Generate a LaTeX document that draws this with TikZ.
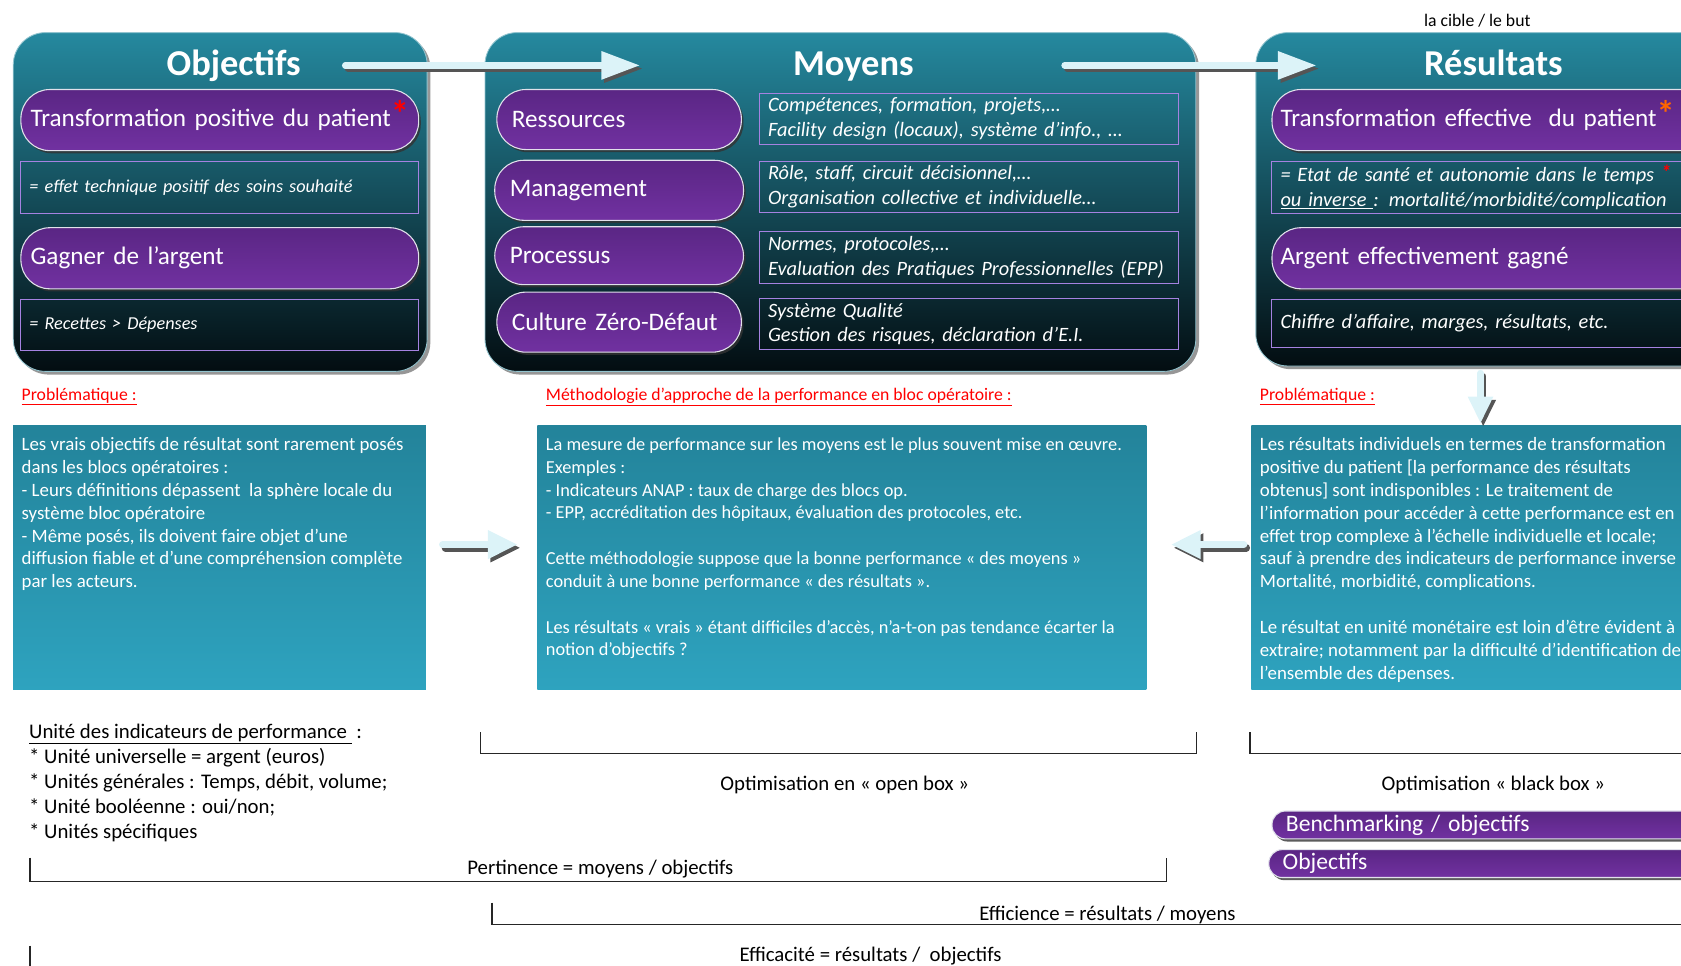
\documentclass[tikz,border=0pt]{standalone}
\usepackage{fontspec}
\setmainfont{Carlito}
\usepackage{xcolor}
\usetikzlibrary{arrows.meta, positioning, shadows}
\definecolor{panelTop}{RGB}{37,137,159}
\definecolor{panelMid}{RGB}{27,96,112}
\definecolor{panelBot}{RGB}{3,13,17}
\definecolor{panelShadow}{RGB}{150,150,150}
\definecolor{pillTop}{RGB}{90,38,132}
\definecolor{pillBot}{RGB}{113,49,161}
\definecolor{pillEdge}{RGB}{225,225,235}
\definecolor{boxEdge}{RGB}{165,130,225}
\definecolor{tbTop}{RGB}{35,131,154}
\definecolor{tbBot}{RGB}{46,163,191}
\definecolor{arrowCyan}{RGB}{220,243,248}
\definecolor{arrowShadow}{RGB}{85,85,85}
\definecolor{starOrange}{RGB}{255,102,0}
\tikzset{
    panel/.style={rectangle, rounded corners=30pt, top color=panelTop, middle color=panelMid, bottom color=panelBot, draw=panelTop!50!white, line width=0.8pt, anchor=north west, inner sep=0pt, drop shadow={shadow xshift=3pt, shadow yshift=-3pt, fill=panelShadow, opacity=1}},
    paneltitle/.style={text=white, inner sep=0pt, anchor=base, font=\fontsize{34}{40}\selectfont\bfseries},
    pill/.style={rectangle, rounded corners=27pt, draw=pillEdge, line width=1pt, top color=pillTop, bottom color=pillBot, text=white, align=left, anchor=north west, inner xsep=9pt, inner ysep=0pt, font=\fontsize{23.5}{27}\selectfont, drop shadow={shadow xshift=2pt, shadow yshift=-2.5pt, fill=black!80, opacity=0.8}},
    benchpill/.style={pill, rounded corners=12.5pt, font=\fontsize{22}{24}\selectfont, inner xsep=13pt},
    infobox/.style={rectangle, draw=boxEdge, line width=0.9pt, text=white, align=left, anchor=north west, inner xsep=8pt, inner ysep=0pt, font=\fontsize{19}{23}\selectfont\itshape},
    textbox/.style={rectangle, top color=tbTop, bottom color=tbBot, anchor=north west, inner sep=0pt},
    boxtext/.style={text=white, align=left, anchor=north west, inner sep=0pt, font=\fontsize{17.6}{21.3}\selectfont},
    heading/.style={text=red, anchor=west, inner sep=0pt, font=\fontsize{16.5}{19}\selectfont},
    plain/.style={inner sep=0pt, font=\fontsize{19.4}{23.3}\selectfont},
    bracket/.style={line width=1.1pt, draw=black!85},
    bigarrow/.style={draw=arrowCyan, line width=6pt, line cap=round, -{Triangle[length=36pt,width=25pt]}},
    smallarrow/.style={draw=arrowCyan, line width=7pt, line cap=round, -{Triangle[length=28pt,width=25pt]}},
    shadowed/.style={draw=arrowShadow, transform canvas={shift={(2.5pt,-3pt)}}},
}
\newcommand{\bigstar}[1]{\rlap{\smash{\color{#1}\fontsize{34}{34}\selectfont\bfseries\raisebox{0pt}{*}}}}

\begin{document}
\begin{tikzpicture}[x=1pt, y=-1pt]
    \useasboundingbox (0,0) rectangle (1568,901);
    \clip (0,0) rectangle (1568,901);

    % === TOP PANELS ===
    \node[panel, minimum width=386pt, minimum height=316pt] (objpanel) at (12,30) {};
    \node[panel, minimum width=663pt, minimum height=316pt] (moypanel) at (452,30) {};
    \node[panel, minimum width=520pt, minimum height=311pt] (respanel) at (1171,30) {};

    \node[paneltitle] (objtitle) at (218,70) {Objectifs};
    \node[paneltitle] (moytitle) at (796,70) {Moyens};
    \node[paneltitle] (restitle) at (1393,70) {Résultats};
    \node[plain, font=\fontsize{16.5}{19}\selectfont] (cible) at (1378,19) {la cible / le but};

    \coordinate (objout) at (322,61);
    \coordinate (moyin) at (597,61);
    \coordinate (moyout) at (993,61);
    \coordinate (resin) at (1228,61);
    \draw[bigarrow, shadowed] (objout) -- (moyin);
    \draw[bigarrow] (objout) -- (moyin);
    \draw[bigarrow, shadowed] (moyout) -- (resin);
    \draw[bigarrow] (moyout) -- (resin);

    % === OBJECTIFS ===
    \node[pill, text width=353pt, minimum height=57pt] (objpatient) at (19,83) {Transformation positive du patient\bigstar{red}};
    \node[infobox, text width=355pt, minimum height=49pt, font=\fontsize{17}{20}\selectfont\itshape, below=9pt of objpatient.south west, anchor=north west] (objeffet) {= effet technique positif des soins souhaité};
    \node[pill, text width=353pt, minimum height=57pt, below=12pt of objeffet.south west, anchor=north west] (objargent) {Gagner de l’argent};
    \node[infobox, text width=355pt, minimum height=48pt, font=\fontsize{17}{20}\selectfont\itshape, below=9pt of objargent.south west, anchor=north west] (objrecettes) {= Recettes > Dépenses};

    % === MOYENS ===
    \node[pill, inner xsep=14pt, text width=200pt, minimum height=56pt] (ressources) at (463,83) {Ressources};
    \node[pill, inner xsep=14pt, text width=204pt, minimum height=56pt] (management) at (461,149) {Management};
    \node[pill, inner xsep=14pt, text width=204pt, minimum height=54pt] (processus) at (461,211) {Processus};
    \node[pill, inner xsep=14pt, text width=200pt, minimum height=56pt] (culture) at (463,272) {Culture Zéro-Défaut};

    \node[infobox, text width=375pt, minimum height=47pt] (ressdet) at (708,87) {Compétences, formation, projets,…\\Facility design (locaux), système d’info., …};
    \node[infobox, text width=375pt, minimum height=48pt, below=15pt of ressdet.south west, anchor=north west] (mgtdet) {Rôle, staff, circuit décisionnel,…\\Organisation collective et individuelle…};
    \node[infobox, text width=375pt, minimum height=48pt, below=17pt of mgtdet.south west, anchor=north west] (procdet) {Normes, protocoles,…\\Evaluation des Pratiques Professionnelles (EPP)};
    \node[infobox, text width=375pt, minimum height=48pt, below=13pt of procdet.south west, anchor=north west] (culdet) {Système Qualité\\Gestion des risques, déclaration d’E.I.};

    % === RESULTATS ===
    \node[pill, inner xsep=8pt, text width=404pt, minimum height=57pt] (respatient) at (1186,83) {Transformation effective~ du patient\bigstar{starOrange}};
    \node[infobox, text width=404pt, minimum height=49pt, below=9pt of respatient.south west, anchor=north west] (resetat) {= Etat de santé et autonomie dans le temps {\color{red}\bfseries\raisebox{2pt}{*}}\\\underline{ou inverse\ }: mortalité/morbidité/complication};
    \node[pill, inner xsep=8pt, text width=404pt, minimum height=57pt, below=12pt of resetat.south west, anchor=north west] (resargent) {Argent effectivement gagné};
    \node[infobox, text width=404pt, minimum height=45pt, below=9pt of resargent.south west, anchor=north west] (reschiffre) {Chiffre d’affaire, marges, résultats, etc.};

    % === PROBLEMATIQUES ===
    \node[heading] (probobj) at (20,370) {\underline{Problématique :}};
    \node[heading] (methmoy) at (509,370) {\underline{Méthodologie d’approche de la performance en bloc opératoire :}};
    \node[heading] (probres) at (1175,370) {\underline{Problématique :}};

    \node[textbox, minimum width=385pt, minimum height=246pt] (boxobj) at (12,397) {};
    \node[textbox, minimum width=568pt, minimum height=246pt] (boxmoy) at (501,397) {};
    \node[textbox, minimum width=450pt, minimum height=246pt] (boxres) at (1167,397) {};

    \node[boxtext] (txtobj) at ([shift={(8pt,-11pt)}]boxobj.north west) {Les vrais objectifs de résultat sont rarement posés\\dans les blocs opératoires :\\- Leurs définitions dépassent~ la sphère locale du\\système bloc opératoire\\- Même posés, ils doivent faire objet d’une\\diffusion fiable et d’une compréhension complète\\par les acteurs.};
    \node[boxtext, font=\fontsize{17.1}{21.3}\selectfont] (txtmoy) at ([shift={(8pt,-11pt)}]boxmoy.north west) {La mesure de performance sur les moyens est le plus souvent mise en œuvre.\\Exemples :\\- Indicateurs ANAP : taux de charge des blocs op.\\- EPP, accréditation des hôpitaux, évaluation des protocoles, etc.\\[21.3pt]Cette méthodologie suppose que la bonne performance « des moyens »\\conduit à une bonne performance « des résultats ».\\[21.3pt]Les résultats « vrais » étant difficiles d’accès, n’a-t-on pas tendance écarter la\\notion d’objectifs ?};
    \node[boxtext] (txtres) at ([shift={(8pt,-11pt)}]boxres.north west) {Les résultats individuels en termes de transformation\\positive du patient [la performance des résultats\\obtenus] sont indisponibles : Le traitement de\\l’information pour accéder à cette performance est en\\effet trop complexe à l’échelle individuelle et locale;\\sauf à prendre des indicateurs de performance inverse\\Mortalité, morbidité, complications.\\[21.3pt]Le résultat en unité monétaire est loin d’être évident à\\extraire; notamment par la difficulté d’identification de\\l’ensemble des dépenses.};

    \coordinate (resdown) at (1381,348);
    \coordinate (boxresin) at (1381,395);
    \coordinate (objright) at (413,508);
    \coordinate (moyleft) at (483,508);
    \coordinate (resleft) at (1160,508);
    \coordinate (moyright) at (1092,508);
    \draw[smallarrow, line width=6pt, -{Triangle[length=25pt,width=22pt]}, shadowed] (resdown) -- (boxresin);
    \draw[smallarrow, line width=6pt, -{Triangle[length=25pt,width=22pt]}] (resdown) -- (boxresin);
    \draw[smallarrow, shadowed] (objright) -- (moyleft);
    \draw[smallarrow] (objright) -- (moyleft);
    \draw[smallarrow, shadowed] (resleft) -- (moyright);
    \draw[smallarrow] (resleft) -- (moyright);

    % === UNITES ET RATIOS ===
    \node[plain, align=left, anchor=north west] (unites) at (27,675) {\underline{Unité des indicateurs de performance\ } :\\* Unité universelle = argent (euros)\\* Unités générales : Temps, débit, volume;\\* Unité booléenne : oui/non;\\* Unités spécifiques};

    \draw[bracket] (448,683) |- (1116,703) -- (1116,683);
    \node[plain] (openbox) at (788,732) {Optimisation en « open box »};
    \draw[bracket] (1166,683) |- (1600,703);
    \node[plain] (blackbox) at (1393,732) {Optimisation « black box »};

    \node[benchpill, text width=394pt, minimum height=26pt] (bench) at (1186,756) {Benchmarking / objectifs};
    \node[benchpill, text width=394pt, minimum height=26pt, below=9pt of bench.south west, anchor=north west, xshift=-3pt] (objectifs) {Objectifs};

    \draw[bracket] (28,800) |- (1088,822) -- (1088,800);
    \node[plain] (pertinence) at (560,811) {Pertinence = moyens / objectifs};
    \draw[bracket] (459,842) |- (1600,862);
    \node[plain] (efficience) at (1033,853) {Efficience = résultats / moyens};
    \draw[bracket] (28,882) -- (28,920);
    \node[plain] (efficacite) at (812,892) {Efficacité = résultats /~ objectifs};

\end{tikzpicture}
\end{document}
